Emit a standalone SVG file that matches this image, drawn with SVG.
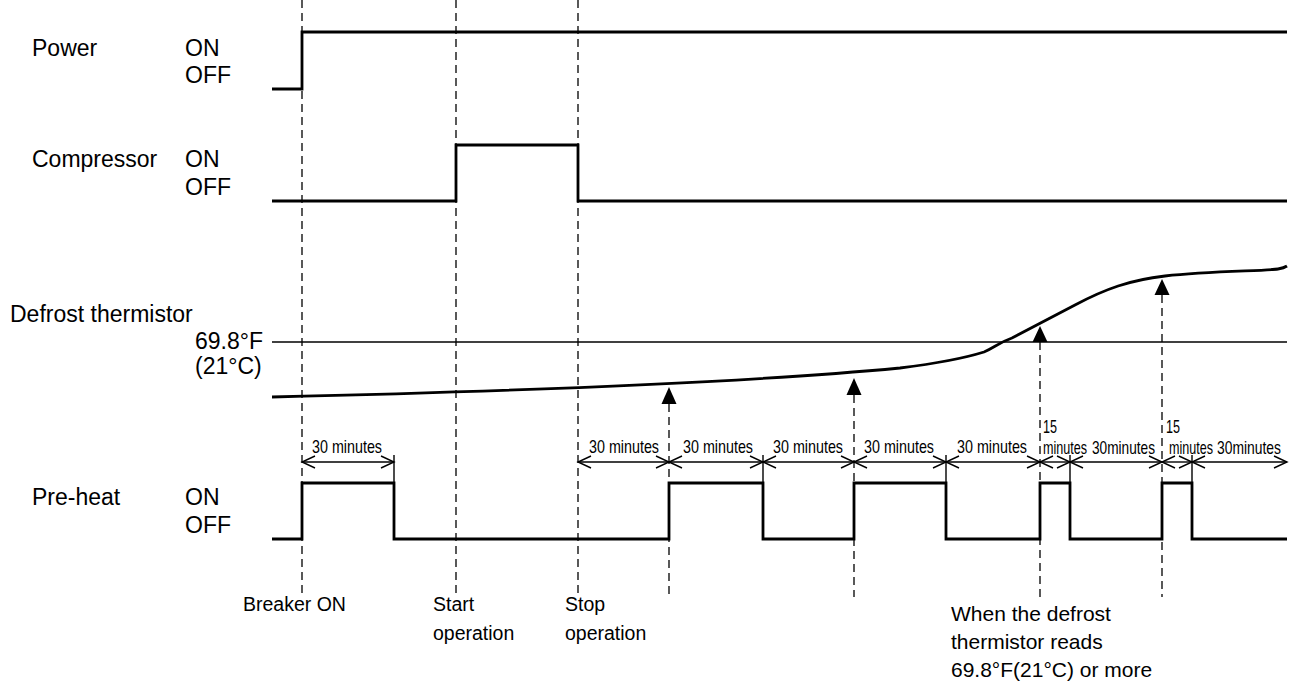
<svg xmlns="http://www.w3.org/2000/svg" width="1292" height="692" viewBox="0 0 1292 692">
<style>
.t{font-family:"Liberation Sans",Arial,sans-serif;font-size:23px;fill:#000}
.b{font-family:"Liberation Sans",Arial,sans-serif;font-size:19.5px;fill:#000}
.w{font-family:"Liberation Sans",Arial,sans-serif;font-size:21px;fill:#000}
.d{font-family:"Liberation Sans",Arial,sans-serif;font-size:18.5px;fill:#000}
.sig{fill:none;stroke:#000;stroke-width:2.8;stroke-linejoin:miter}
.dash{fill:none;stroke:#000;stroke-width:1.3;stroke-dasharray:8 5}
.thin{fill:none;stroke:#000;stroke-width:1.4}
.dim{fill:none;stroke:#000;stroke-width:1.4;marker-start:url(#v);marker-end:url(#v)}
</style>
<defs>
<marker id="v" markerUnits="userSpaceOnUse" markerWidth="30" markerHeight="30" viewBox="-15 -15 30 30" refX="0" refY="0" orient="auto-start-reverse" overflow="visible">
<path d="M-13,-6 L0,0 L-13,6" fill="none" stroke="#000" stroke-width="1.4"/>
</marker>
</defs>
<rect width="1292" height="692" fill="#fff"/>

<g id="labels">
<text class="t" x="32" y="56">Power</text>
<text class="t" x="185" y="56">ON</text>
<text class="t" x="185" y="83">OFF</text>
<text class="t" x="32" y="167">Compressor</text>
<text class="t" x="185" y="167">ON</text>
<text class="t" x="185" y="195">OFF</text>
<text class="t" x="10" y="322">Defrost thermistor</text>
<text class="t" x="263" y="349" text-anchor="end">69.8°F</text>
<text class="t" x="195" y="374">(21°C)</text>
<text class="t" x="32" y="505">Pre-heat</text>
<text class="t" x="185" y="505">ON</text>
<text class="t" x="185" y="533">OFF</text>
</g>

<g id="bottom-labels">
<text class="b" x="243" y="611">Breaker ON</text>
<text class="b" x="433" y="611">Start</text>
<text class="b" x="433" y="640">operation</text>
<text class="b" x="565" y="611">Stop</text>
<text class="b" x="565" y="640">operation</text>
<text class="w" x="951" y="621">When the defrost</text>
<text class="w" x="951" y="649">thermistor reads</text>
<text class="w" x="951" y="677">69.8°F(21°C) or more</text>
</g>

<g id="connectors">
<path class="dash" d="M302,0 V597 M456,0 V597 M578,0 V597"/>
<path class="dash" d="M669,404 V597 M854,395 V597 M1040,342 V597 M1162,295 V597"/>
<polygon points="669,387 661.5,404 676.5,404" fill="#000"/>
<polygon points="854,378 846.5,395 861.5,395" fill="#000"/>
<polygon points="1040,326 1032.5,342 1047.5,342" fill="#000"/>
<polygon points="1162,279 1154.5,295 1169.5,295" fill="#000"/>
</g>

<g id="power">
<path class="sig" d="M272,89 H302 V32 H1287"/>
</g>
<g id="compressor">
<path class="sig" d="M272,201 H456 V145 H578 V201 H1287"/>
</g>
<g id="thermistor">
<path class="thin" d="M272,342 H1287"/>
<path class="sig" d="M272,397 Q700,387 900,368 C940,363 968,357 984,352 C994,348 998,343 1012,338 L1075,305 C1105,289 1130,280 1165,276 C1210,271 1265,271 1278,269 Q1284,268 1287,266"/>
</g>
<g id="preheat">
<path class="sig" d="M272,539 H302 V483 H394 V539 H669 V483 H763 V539 H854 V483 H946 V539 H1040 V483 H1070 V539 H1162 V483 H1192 V539 H1287"/>
</g>

<g id="dimensions">
<path class="thin" d="M394,455 V483 M763,455 V483 M946,455 V483 M1070,455 V483 M1192,455 V483"/>
<line class="dim" x1="302" y1="462" x2="394" y2="462"/>
<line class="dim" x1="578" y1="462" x2="669" y2="462"/>
<line class="dim" x1="669" y1="462" x2="763" y2="462"/>
<line class="dim" x1="763" y1="462" x2="854" y2="462"/>
<line class="dim" x1="854" y1="462" x2="946" y2="462"/>
<line class="dim" x1="946" y1="462" x2="1040" y2="462"/>
<line class="dim" x1="1040" y1="462" x2="1070" y2="462"/>
<line class="dim" x1="1070" y1="462" x2="1162" y2="462"/>
<line class="dim" x1="1162" y1="462" x2="1192" y2="462"/>
<line class="dim" x1="1192" y1="462" x2="1287" y2="462"/>
<text class="d" x="312" y="453" textLength="70" lengthAdjust="spacingAndGlyphs">30 minutes</text>
<text class="d" x="589" y="453" textLength="70" lengthAdjust="spacingAndGlyphs">30 minutes</text>
<text class="d" x="683" y="453" textLength="70" lengthAdjust="spacingAndGlyphs">30 minutes</text>
<text class="d" x="773" y="453" textLength="70" lengthAdjust="spacingAndGlyphs">30 minutes</text>
<text class="d" x="864" y="453" textLength="70" lengthAdjust="spacingAndGlyphs">30 minutes</text>
<text class="d" x="957" y="453" textLength="70" lengthAdjust="spacingAndGlyphs">30 minutes</text>
<text class="d" x="1043" y="433" textLength="14" lengthAdjust="spacingAndGlyphs">15</text>
<text class="d" x="1043" y="454" textLength="44" lengthAdjust="spacingAndGlyphs">minutes</text>
<text class="d" x="1092" y="454" textLength="63" lengthAdjust="spacingAndGlyphs">30minutes</text>
<text class="d" x="1166" y="433" textLength="14" lengthAdjust="spacingAndGlyphs">15</text>
<text class="d" x="1169" y="454" textLength="44" lengthAdjust="spacingAndGlyphs">minutes</text>
<text class="d" x="1217" y="454" textLength="64" lengthAdjust="spacingAndGlyphs">30minutes</text>
</g>
</svg>
